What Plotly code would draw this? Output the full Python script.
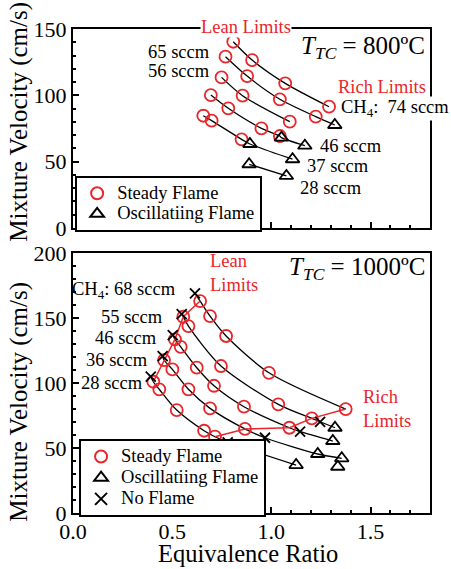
import plotly.graph_objects as go

RED = "#e8262b"
FONT = "Liberation Serif"

# ---------------- Top panel: T_TC = 800 C ----------------
top_flows = ["74", "65", "56", "46", "37", "28"]
top_steady_phi = {
    "74": [0.808, 0.903, 1.070, 1.291],
    "65": [0.769, 0.878, 1.043, 1.224],
    "56": [0.749, 0.855, 1.093],
    "46": [0.695, 0.783, 0.950, 1.043],
    "37": [0.657, 0.699, 0.850],
    "28": [],
}
top_steady_u = {
    "74": [140.4, 126.6, 109.0, 91.4],
    "65": [129.1, 114.5, 97.0, 83.9],
    "56": [113.5, 99.7, 80.1],
    "46": [100.2, 90.2, 75.1, 69.3],
    "37": [84.6, 80.9, 66.8],
    "28": [],
}
top_osc_phi = {
    "74": [], "65": [1.320], "56": [],
    "46": [1.051, 1.169], "37": [0.892, 1.107], "28": [0.888, 1.076],
}
top_osc_u = {
    "74": [], "65": [77.6], "56": [],
    "46": [68.1, 62.0], "37": [63.3, 51.8], "28": [48.0, 39.2],
}

# ---------------- Bottom panel: T_TC = 1000 C ----------------
bot_flows = ["68", "55", "46", "36", "28"]
bot_steady_phi = {
    "68": [0.641, 0.691, 0.772, 0.988, 1.375],
    "55": [0.556, 0.582, 0.746, 1.035, 1.204],
    "46": [0.514, 0.543, 0.624, 0.711, 0.862, 1.091],
    "36": [0.459, 0.501, 0.582, 0.691, 0.867],
    "28": [0.405, 0.435, 0.523, 0.661, 0.716],
}
bot_steady_u = {
    "68": [163.1, 151.5, 136.2, 107.9, 80.0],
    "55": [151.0, 143.8, 113.1, 83.6, 72.8],
    "46": [133.6, 127.9, 111.8, 97.9, 81.8, 65.6],
    "36": [117.7, 110.5, 95.2, 80.5, 64.7],
    "28": [101.0, 95.2, 79.2, 63.3, 58.7],
}
bot_noflame_phi = {
    "68": [0.615], "55": [0.548, 1.246], "46": [0.503, 1.145],
    "36": [0.452, 0.968], "28": [0.392, 0.780],
}
bot_noflame_u = {
    "68": [169.0], "55": [153.1, 70.2], "46": [136.9, 62.6],
    "36": [120.8, 57.9], "28": [104.9, 54.4],
}
bot_osc_phi = {
    "68": [], "55": [1.321], "46": [1.310],
    "36": [1.234, 1.355], "28": [1.125],
}
bot_osc_u = {
    "68": [], "55": [65.6], "46": [55.4],
    "36": [45.4, 42.1], "28": [36.9],
}
# isolated oscillating point (not on a drawn curve)
extra_osc_phi = [1.335]
extra_osc_u = [35.6]

# lean / rich limit lines (bottom panel), ordered from 28 to 68 sccm
lean_phi = [0.405, 0.459, 0.514, 0.556, 0.641]
lean_u = [101.0, 117.7, 133.6, 151.0, 163.1]
rich_phi = [0.716, 0.867, 1.091, 1.204, 1.375]
rich_u = [58.7, 64.7, 65.6, 72.8, 80.0]

fig = go.Figure()


def curve(phis, us, xa, ya):
    pts = sorted(zip(phis, us))
    fig.add_trace(go.Scatter(
        x=[p[0] for p in pts], y=[p[1] for p in pts], mode="lines",
        line=dict(color="black", width=1.3, shape="spline", smoothing=0.8),
        xaxis=xa, yaxis=ya, showlegend=False, hoverinfo="skip"))


for f in top_flows:
    curve(top_steady_phi[f] + top_osc_phi[f], top_steady_u[f] + top_osc_u[f], "x", "y")
for f in bot_flows:
    curve(bot_steady_phi[f] + bot_noflame_phi[f] + bot_osc_phi[f],
          bot_steady_u[f] + bot_noflame_u[f] + bot_osc_u[f], "x2", "y2")

fig.add_trace(go.Scatter(x=lean_phi, y=lean_u, mode="lines", line=dict(color=RED, width=1.5),
                         xaxis="x2", yaxis="y2", showlegend=False, hoverinfo="skip"))
fig.add_trace(go.Scatter(x=rich_phi, y=rich_u, mode="lines", line=dict(color=RED, width=1.5),
                         xaxis="x2", yaxis="y2", showlegend=False, hoverinfo="skip"))

circ = dict(symbol="circle-open", size=12, color=RED, line=dict(width=1.8, color=RED))
tri = dict(symbol="triangle-up-open", size=12, color="black", line=dict(width=1.8, color="black"))
cross = dict(symbol="x-thin-open", size=10, color="black", line=dict(width=1.8, color="black"))


def flat(d, keys):
    out = []
    for k in keys:
        out += d[k]
    return out


def lname(s):
    return '<span style="font-size:18.5px">' + s + '</span>'


fig.add_trace(go.Scatter(x=flat(top_steady_phi, top_flows), y=flat(top_steady_u, top_flows),
                         mode="markers", marker=circ, name=lname("Steady Flame"),
                         xaxis="x", yaxis="y", legend="legend"))
fig.add_trace(go.Scatter(x=flat(top_osc_phi, top_flows), y=flat(top_osc_u, top_flows),
                         mode="markers", marker=tri, name=lname("Oscillatiing Flame"),
                         xaxis="x", yaxis="y", legend="legend"))
fig.add_trace(go.Scatter(x=flat(bot_steady_phi, bot_flows), y=flat(bot_steady_u, bot_flows),
                         mode="markers", marker=circ, name=lname("Steady Flame"),
                         xaxis="x2", yaxis="y2", legend="legend2"))
fig.add_trace(go.Scatter(x=flat(bot_osc_phi, bot_flows) + extra_osc_phi,
                         y=flat(bot_osc_u, bot_flows) + extra_osc_u,
                         mode="markers", marker=tri, name=lname("Oscillatiing Flame"),
                         xaxis="x2", yaxis="y2", legend="legend2"))
fig.add_trace(go.Scatter(x=flat(bot_noflame_phi, bot_flows), y=flat(bot_noflame_u, bot_flows),
                         mode="markers", marker=cross, name=lname("No Flame"),
                         xaxis="x2", yaxis="y2", legend="legend2"))

axis_common = dict(
    showline=True, linecolor="black", linewidth=2, mirror=True,
    ticks="inside", ticklen=6, tickwidth=1.5, tickcolor="black",
    showgrid=False, zeroline=False, automargin=False,
    tickfont=dict(family=FONT, size=22, color="black"),
)

fig.update_layout(
    width=451, height=569,
    margin=dict(l=73, r=21, t=29, b=56, autoexpand=False),
    plot_bgcolor="white", paper_bgcolor="white",
    font=dict(family=FONT, color="black"),
    xaxis=dict(axis_common, range=[0, 1.8], anchor="y", showticklabels=False, dtick=0.5,
               minor=dict(ticks="inside", ticklen=3, dtick=0.1, tickcolor="black")),
    yaxis=dict(axis_common, range=[0, 150], domain=[0.589, 1.0], anchor="x", dtick=50,
               minor=dict(ticks="inside", ticklen=3, dtick=10, tickcolor="black")),
    xaxis2=dict(axis_common, range=[0, 1.8], anchor="y2", dtick=0.5, tickformat=".1f",
                ticklabelstandoff=-2,
                minor=dict(ticks="inside", ticklen=3, dtick=0.1, tickcolor="black")),
    yaxis2=dict(axis_common, range=[0, 200], domain=[0.0, 0.537], anchor="x2", dtick=50,
                minor=dict(ticks="inside", ticklen=3, dtick=10, tickcolor="black")),
    legend=dict(x=0.006, y=(513 - 232) / 484, xanchor="left", yanchor="bottom",
                bgcolor="white", bordercolor="black", borderwidth=2,
                font=dict(family=FONT, size=13.5), tracegroupgap=0, itemsizing="constant"),
    legend2=dict(x=0.017, y=-0.008, xanchor="left", yanchor="bottom",
                 bgcolor="white", bordercolor="black", borderwidth=2,
                 font=dict(family=FONT, size=14), tracegroupgap=0, itemsizing="constant"),
)

ann = []
lab = dict(family=FONT, size=18.5, color="black")
redf = dict(family=FONT, size=18.5, color=RED)
big = dict(family=FONT, size=25, color="black")
# axis titles
ann.append(dict(text="Mixture Velocity (cm/s)", xref="paper", yref="paper",
                x=-0.152, y=(513 - 122) / 484, xanchor="center", yanchor="middle",
                textangle=-90, showarrow=False, font=big))
ann.append(dict(text="Mixture Velocity (cm/s)", xref="paper", yref="paper",
                x=-0.152, y=(513 - 402) / 484, xanchor="center", yanchor="middle",
                textangle=-90, showarrow=False, font=big))
ann.append(dict(text="Equivalence Ratio", xref="paper", yref="paper",
                x=(248 - 73) / 357, y=(513 - 553) / 484, xanchor="center", yanchor="middle",
                showarrow=False, borderpad=0, font=dict(family=FONT, size=24.5, color="black")))
# top panel labels
ann += [
    dict(text="Lean Limits", xref="x", yref="paper", x=0.87, y=(513 - 27) / 484,
         xanchor="center", yanchor="middle", showarrow=False,
         font=redf, bgcolor="white", borderpad=0),
    dict(text="Rich Limits", xref="x", yref="y", x=1.56, y=106, showarrow=False, font=redf),
    dict(text="<i>T<sub>TC</sub></i> = 800ºC", xref="x", yref="y", x=1.785, y=136,
         xanchor="right", showarrow=False, font=big),
    dict(text="65 sccm", xref="x", yref="y", x=0.70, y=133, xanchor="right", showarrow=False, font=lab),
    dict(text="56 sccm", xref="x", yref="y", x=0.70, y=118.5, xanchor="right", showarrow=False, font=lab),
    dict(text="CH<sub>4</sub>:  74 sccm", xref="x", yref="y", x=1.345, y=90, xanchor="left",
         showarrow=False, font=lab, bgcolor="white", borderpad=0),
    dict(text="46 sccm", xref="x", yref="y", x=1.235, y=62, xanchor="left", showarrow=False, font=lab),
    dict(text="37 sccm", xref="x", yref="y", x=1.17, y=47, xanchor="left", showarrow=False, font=lab),
    dict(text="28 sccm", xref="x", yref="y", x=1.135, y=30, xanchor="left", showarrow=False, font=lab),
]
# bottom panel labels
ann += [
    dict(text="Lean<br>Limits", xref="x2", yref="y2", x=0.68, y=185, xanchor="left", align="left",
         showarrow=False, font=redf),
    dict(text="Rich<br>Limits", xref="x2", yref="y2", x=1.45, y=80, xanchor="left", align="left",
         showarrow=False, font=redf),
    dict(text="<i>T<sub>TC</sub></i> = 1000ºC", xref="x2", yref="y2", x=1.785, y=188,
         xanchor="right", showarrow=False, font=big),
    dict(text="CH<sub>4</sub>: 68 sccm", xref="x2", yref="y2", x=0.53, y=171, xanchor="right", showarrow=False, font=lab),
    dict(text="55 sccm", xref="x2", yref="y2", x=0.465, y=151, xanchor="right", showarrow=False, font=lab),
    dict(text="46 sccm", xref="x2", yref="y2", x=0.435, y=135, xanchor="right", showarrow=False, font=lab),
    dict(text="36 sccm", xref="x2", yref="y2", x=0.39, y=118, xanchor="right", showarrow=False, font=lab),
    dict(text="28 sccm", xref="x2", yref="y2", x=0.365, y=100, xanchor="right", showarrow=False, font=lab),
]
fig.update_layout(annotations=ann)

fig.write_html("out.html", config={"displayModeBar": False},
               post_script="document.body.style.margin='0';document.body.style.overflow='hidden';")
